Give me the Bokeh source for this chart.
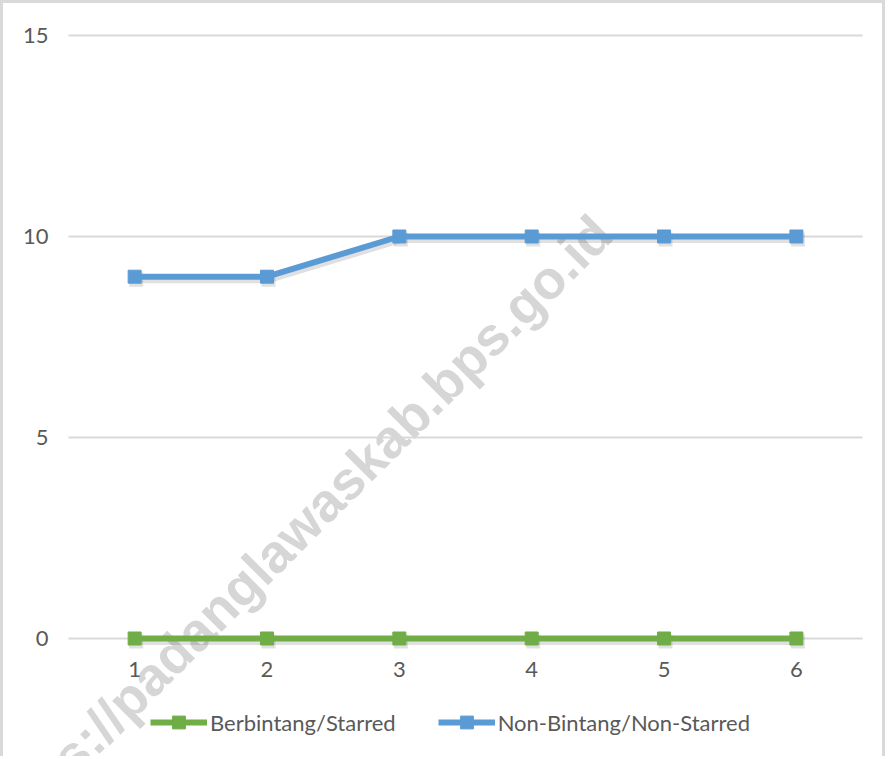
import math
from bokeh.plotting import figure
from bokeh.models import (Range1d, FixedTicker, Legend, LegendItem, Label)
from bokeh.embed import file_html
from bokeh.resources import INLINE

# ---- data ----
categories = [1, 2, 3, 4, 5, 6]
starred = [0, 0, 0, 0, 0, 0]
non_starred = [9, 9, 10, 10, 10, 10]
y_ticks = [0, 5, 10, 15]
series_names = ["Berbintang/Starred", "Non-Bintang/Non-Starred"]

GREEN = "#70AD47"
BLUE = "#5B9BD5"
TEXT = "#595959"
GRID = "#d9d9d9"
FONT = "Lato"

# plot-area extents (category axis: half a slot on each side)
x_lo = categories[0] - 0.5
x_hi = categories[-1] + 0.5

W, H = 885, 756
X0, X1 = 0.009, 6.696
Y0, Y1 = -3.01, 15.796

p = figure(width=W, height=H, output_backend="svg", toolbar_location=None,
           x_range=Range1d(X0, X1), y_range=Range1d(Y0, Y1),
           min_border_left=0, min_border_right=0, min_border_top=0,
           min_border_bottom=0)
p.outline_line_color = None
p.background_fill_color = "white"
p.border_fill_color = "white"

# axes placed at the plot-area edges
p.xaxis.ticker = FixedTicker(ticks=categories)
p.yaxis.ticker = FixedTicker(ticks=y_ticks)
p.xaxis.fixed_location = 0
p.yaxis.fixed_location = x_lo
for ax in (p.xaxis[0], p.yaxis[0]):
    ax.axis_line_color = None
    ax.major_tick_line_color = None
    ax.minor_tick_line_color = None
    ax.major_tick_out = 0
    ax.major_tick_in = 0
    ax.major_label_text_font = FONT
    ax.major_label_text_font_size = "22px"
    ax.major_label_text_color = TEXT
p.yaxis.major_label_standoff = 20
p.xaxis.major_label_standoff = 24
p.xgrid.grid_line_color = None
p.ygrid.grid_line_color = None

# horizontal gridlines across the plot area
p.segment(x0=[x_lo] * len(y_ticks), x1=[x_hi] * len(y_ticks),
          y0=y_ticks, y1=y_ticks, line_color=GRID, line_width=2,
          level="underlay")

# watermark
wm = Label(x=-0.1, y=-4.95, text="https://padanglawaskab.bps.go.id",
           angle=math.radians(45), text_font="Liberation Sans",
           text_font_style="bold", text_font_size="54px",
           text_color="#d6d6d6", text_baseline="alphabetic",
           text_align="left", level="underlay")
p.add_layout(wm)

# soft drop shadows (offset a couple of pixels down/right)
px_x = (X1 - X0) / W
px_y = (Y1 - Y0) / H
for ys in (starred, non_starred):
    sx = [c + 1.5 * px_x for c in categories]
    sy = [v - 3 * px_y for v in ys]
    p.line(sx, sy, line_color="black", line_alpha=0.12, line_width=7)
    p.scatter(sx, sy, marker="square", size=14, fill_color="black",
              fill_alpha=0.12, line_color=None)

# series
l1 = p.line(categories, starred, line_color=GREEN, line_width=6)
s1 = p.scatter(categories, starred, marker="square", size=13,
               fill_color=GREEN, line_color=GREEN)
l2 = p.line(categories, non_starred, line_color=BLUE, line_width=6)
s2 = p.scatter(categories, non_starred, marker="square", size=13,
               fill_color=BLUE, line_color=BLUE)

legend = Legend(items=[LegendItem(label=series_names[0], renderers=[l1, s1]),
                       LegendItem(label=series_names[1], renderers=[l2, s2])],
                location=(147, 21), orientation="horizontal",
                glyph_width=57, glyph_height=32, label_standoff=3,
                spacing=42, padding=0, margin=0,
                border_line_color=None, background_fill_alpha=0,
                label_text_font=FONT, label_text_font_size="22px",
                label_text_color=TEXT)
p.add_layout(legend, "center")

p.styles = {"border-top": "3px solid #d9d9d9",
            "border-left": "3px solid #d9d9d9",
            "border-right": "3px solid #d9d9d9"}

open("out.html", "w").write(file_html(p, INLINE))
